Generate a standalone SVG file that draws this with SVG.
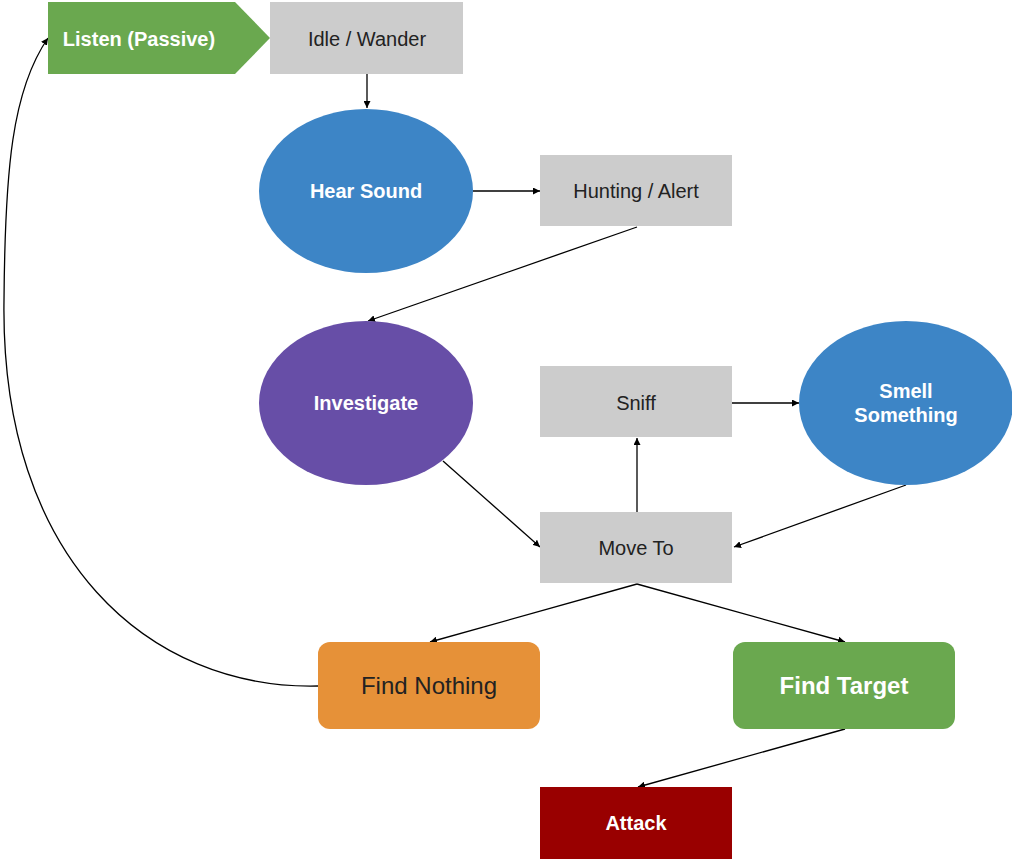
<svg xmlns="http://www.w3.org/2000/svg" width="1012" height="860" viewBox="0 0 1012 860">
  <style>
    .lbl { font-family: "Liberation Sans", Arial, sans-serif; font-size: 20px; text-anchor: middle; }
    .dark { fill: #222222; }
    .light { fill: #ffffff; font-weight: bold; }
    .big { font-size: 24px; }
    .gray { fill: #cccccc; }
    .edge { fill: none; stroke: #000000; stroke-width: 1.3; marker-end: url(#arrow); }
  </style>
  <defs>
    <marker id="arrow" viewBox="0 0 10 10" refX="10" refY="5" markerWidth="7" markerHeight="7" markerUnits="userSpaceOnUse" orient="auto">
      <path d="M0,0 L10,5 L0,10 z" fill="#000000"/>
    </marker>
  </defs>
  <rect width="1012" height="860" fill="#ffffff"/>

  <!-- connectors -->
  <g id="connectors">
    <line class="edge" x1="367" y1="74" x2="367" y2="108"/>
    <line class="edge" x1="473" y1="191" x2="540" y2="191"/>
    <line class="edge" x1="637" y1="227" x2="368" y2="321"/>
    <line class="edge" x1="443" y1="461" x2="540" y2="547"/>
    <line class="edge" x1="732" y1="403" x2="799" y2="403"/>
    <line class="edge" x1="637" y1="512" x2="637" y2="438"/>
    <line class="edge" x1="906" y1="485" x2="734" y2="547"/>
    <line class="edge" x1="637" y1="584" x2="430" y2="642"/>
    <line class="edge" x1="637" y1="584" x2="845" y2="642"/>
    <line class="edge" x1="845" y1="729" x2="638" y2="787"/>
    <path class="edge" d="M318,686 C150,690 0,560 4,300 C5,170 12,90 48,38"/>
  </g>

  <!-- nodes -->
  <g id="listen">
    <polygon points="48,2 235,2 270,38 235,74 48,74" fill="#6aa84f"/>
    <text class="lbl light" x="139" y="46">Listen (Passive)</text>
  </g>
  <g id="idle">
    <rect class="gray" x="270" y="2" width="193" height="72"/>
    <text class="lbl dark" x="367" y="46">Idle / Wander</text>
  </g>
  <g id="hear-sound">
    <ellipse cx="366" cy="191" rx="107" ry="82" fill="#3d85c6"/>
    <text class="lbl light" x="366" y="198">Hear Sound</text>
  </g>
  <g id="hunting">
    <rect class="gray" x="540" y="155" width="192" height="71"/>
    <text class="lbl dark" x="636" y="198">Hunting / Alert</text>
  </g>
  <g id="investigate">
    <ellipse cx="366" cy="403" rx="107" ry="82" fill="#674ea7"/>
    <text class="lbl light" x="366" y="410">Investigate</text>
  </g>
  <g id="sniff">
    <rect class="gray" x="540" y="366" width="192" height="71"/>
    <text class="lbl dark" x="636" y="410">Sniff</text>
  </g>
  <g id="smell">
    <ellipse cx="906" cy="403" rx="107" ry="82" fill="#3d85c6"/>
    <text class="lbl light" x="906" y="398">Smell</text>
    <text class="lbl light" x="906" y="422">Something</text>
  </g>
  <g id="move-to">
    <rect class="gray" x="540" y="512" width="192" height="71"/>
    <text class="lbl dark" x="636" y="555">Move To</text>
  </g>
  <g id="find-nothing">
    <rect x="318" y="642" width="222" height="87" rx="12" fill="#e69138"/>
    <text class="lbl dark big" x="429" y="694">Find Nothing</text>
  </g>
  <g id="find-target">
    <rect x="733" y="642" width="222" height="87" rx="12" fill="#6aa84f"/>
    <text class="lbl light big" x="844" y="694">Find Target</text>
  </g>
  <g id="attack">
    <rect x="540" y="787" width="192" height="72" fill="#990000"/>
    <text class="lbl light" x="636" y="830">Attack</text>
  </g>
</svg>
